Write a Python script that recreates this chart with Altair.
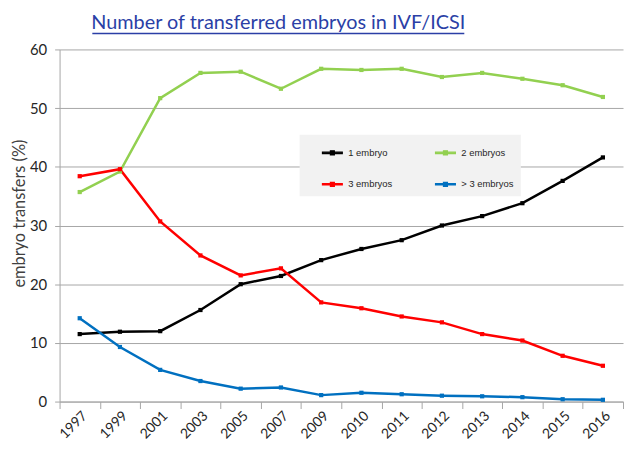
import altair as alt
import pandas as pd

years = ["1997", "1999", "2001", "2003", "2005", "2007", "2009",
         "2010", "2011", "2012", "2013", "2014", "2015", "2016"]
one_embryo = [11.5, 11.9, 12.0, 15.6, 20.0, 21.4, 24.1, 26.0, 27.5, 30.0, 31.6, 33.8, 37.6, 41.6]
two_embryos = [35.7, 39.2, 51.7, 56.0, 56.2, 53.3, 56.7, 56.5, 56.7, 55.3, 56.0, 55.0, 53.9, 51.9]
three_embryos = [38.4, 39.6, 30.7, 24.9, 21.5, 22.7, 16.9, 15.9, 14.5, 13.5, 11.5, 10.4, 7.8, 6.1]
more_embryos = [14.2, 9.3, 5.4, 3.5, 2.2, 2.4, 1.1, 1.5, 1.25, 1.0, 0.9, 0.75, 0.4, 0.3]

series_names = ["1 embryo", "2 embryos", "3 embryos", "> 3 embryos"]
series_colors = ["#000000", "#92d050", "#ff0000", "#0070c0"]
title_text = "Number of transferred embryos in IVF/ICSI"
y_ticks = [0, 10, 20, 30, 40, 50, 60]

rows = []
for name, vals in zip(series_names, [one_embryo, two_embryos, three_embryos, more_embryos]):
    for yr, v in zip(years, vals):
        rows.append({"year": yr, "series": name, "value": v})
df = pd.DataFrame(rows)

legend_symbol = "M-1,-0.07H1V0.07H-1Z M-0.2,-0.2H0.2V0.2H-0.2Z"

lines = alt.Chart(df).mark_line(
    strokeWidth=2.5,
    point=alt.OverlayMarkDef(shape="square", filled=True, size=18, opacity=1),
).encode(
    x=alt.X("year:N", sort=years,
            scale=alt.Scale(type="band", paddingInner=0, paddingOuter=0),
            axis=alt.Axis(title=None, tickBand="extent", tickSize=7, labelAngle=-45,
                          labelFont="Lato", labelFontSize=14, labelColor="#262626",
                          labelPadding=0, domainColor="#a6a6a6", tickColor="#a6a6a6",
                          grid=False)),
    y=alt.Y("value:Q", scale=alt.Scale(domain=[0, 60], nice=False),
            axis=alt.Axis(values=y_ticks, title="embryo transfers (%)",
                          titleFont="Lato", titleFontSize=16.5, titleFontWeight="normal",
                          titleColor="#404040", titlePadding=2, titleY=165,
                          labelFont="Lato", labelFontSize=15, labelColor="#262626",
                          labelPadding=8, tickSize=5, tickColor="#a6a6a6",
                          domainColor="#a6a6a6", gridColor="#a6a6a6")),
    color=alt.Color("series:N", sort=series_names,
                    scale=alt.Scale(domain=series_names, range=series_colors),
                    legend=alt.Legend(title=None, orient="none", legendX=242, legendY=86,
                                      direction="horizontal",
                                      columns=2, columnPadding=27, rowPadding=16,
                                      padding=7, fillColor="#f2f2f2",
                                      symbolType=legend_symbol, symbolSize=400,
                                      symbolOffset=15, labelOffset=5,
                                      symbolStrokeWidth=1.2,
                                      labelFont="Liberation Sans", labelFontSize=9.5,
                                      labelColor="#262626")),
)

title_layer = alt.Chart(pd.DataFrame({"t": [title_text]})).mark_text(
    font="Lato", fontSize=20, color="#2b3fa6", align="center", baseline="alphabetic"
).encode(text="t:N", x=alt.value(220.5), y=alt.value(-21))

underline = alt.Chart(pd.DataFrame({"t": [title_text]})).mark_rule(
    color="#2b3fa6", strokeWidth=1.5
).encode(x=alt.value(33), x2=alt.value(408), y=alt.value(-16))

chart = alt.layer(lines, title_layer, underline).properties(
    width=568, height=355,
    autosize=alt.AutoSizeParams(type="none"),
    padding={"left": 52, "top": 40, "right": 2, "bottom": 40},
    background="white",
).configure_view(stroke=None)

chart.save("out.html", embed_options={"renderer": "svg", "actions": False})
